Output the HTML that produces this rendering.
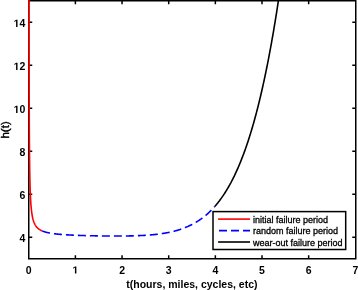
<!DOCTYPE html>
<html><head><meta charset="utf-8"><style>
html,body{margin:0;padding:0;background:#fff;width:358px;height:290px;overflow:hidden}
svg{display:block;will-change:transform}
text{font-family:"Liberation Sans",sans-serif}
</style></head><body>
<svg width="358" height="290" viewBox="0 0 358 290">
<rect x="0" y="0" width="358" height="290" fill="#fff"/>
<defs><clipPath id="c"><rect x="0" y="0" width="358" height="258.75"/></clipPath></defs>
<g fill="none" stroke="#000" stroke-width="1.5">
<rect x="28.75" y="0.75" width="327.0" height="258.0"/>
<line x1="75.40" y1="258.75" x2="75.40" y2="255.25"/><line x1="75.40" y1="0.75" x2="75.40" y2="4.25"/><line x1="122.05" y1="258.75" x2="122.05" y2="255.25"/><line x1="122.05" y1="0.75" x2="122.05" y2="4.25"/><line x1="168.70" y1="258.75" x2="168.70" y2="255.25"/><line x1="168.70" y1="0.75" x2="168.70" y2="4.25"/><line x1="215.35" y1="258.75" x2="215.35" y2="255.25"/><line x1="215.35" y1="0.75" x2="215.35" y2="4.25"/><line x1="262.00" y1="258.75" x2="262.00" y2="255.25"/><line x1="262.00" y1="0.75" x2="262.00" y2="4.25"/><line x1="308.65" y1="258.75" x2="308.65" y2="255.25"/><line x1="308.65" y1="0.75" x2="308.65" y2="4.25"/><line x1="28.75" y1="237.25" x2="32.25" y2="237.25"/><line x1="355.75" y1="237.25" x2="352.25" y2="237.25"/><line x1="28.75" y1="194.25" x2="32.25" y2="194.25"/><line x1="355.75" y1="194.25" x2="352.25" y2="194.25"/><line x1="28.75" y1="151.25" x2="32.25" y2="151.25"/><line x1="355.75" y1="151.25" x2="352.25" y2="151.25"/><line x1="28.75" y1="108.25" x2="32.25" y2="108.25"/><line x1="355.75" y1="108.25" x2="352.25" y2="108.25"/><line x1="28.75" y1="65.25" x2="32.25" y2="65.25"/><line x1="355.75" y1="65.25" x2="352.25" y2="65.25"/><line x1="28.75" y1="22.25" x2="32.25" y2="22.25"/><line x1="355.75" y1="22.25" x2="352.25" y2="22.25"/>
</g>
<g clip-path="url(#c)" fill="none" stroke-width="1.6" stroke-linejoin="round">
<path d="M214.67,206.56 L215.02,206.17 L215.36,205.77 L215.70,205.37 L216.05,204.97 L216.39,204.56 L216.73,204.15 L217.08,203.73 L217.42,203.31 L217.76,202.88 L218.11,202.45 L218.45,202.01 L218.79,201.57 L219.14,201.13 L219.48,200.68 L219.83,200.22 L220.17,199.76 L220.51,199.30 L220.86,198.83 L221.20,198.35 L221.54,197.87 L221.89,197.39 L222.23,196.89 L222.57,196.40 L222.92,195.90 L223.26,195.39 L223.60,194.88 L223.95,194.36 L224.29,193.84 L224.63,193.31 L224.98,192.78 L225.32,192.24 L225.66,191.69 L226.01,191.14 L226.35,190.58 L226.69,190.02 L227.04,189.45 L227.38,188.88 L227.73,188.30 L228.07,187.71 L228.41,187.12 L228.76,186.52 L229.10,185.92 L229.44,185.30 L229.79,184.69 L230.13,184.06 L230.47,183.43 L230.82,182.80 L231.16,182.15 L231.50,181.50 L231.85,180.85 L232.19,180.19 L232.53,179.52 L232.88,178.84 L233.22,178.16 L233.56,177.47 L233.91,176.77 L234.25,176.06 L234.59,175.35 L234.94,174.63 L235.28,173.91 L235.63,173.18 L235.97,172.44 L236.31,171.69 L236.66,170.93 L237.00,170.17 L237.34,169.40 L237.69,168.62 L238.03,167.84 L238.37,167.05 L238.72,166.24 L239.06,165.44 L239.40,164.62 L239.75,163.79 L240.09,162.96 L240.43,162.12 L240.78,161.27 L241.12,160.41 L241.46,159.55 L241.81,158.67 L242.15,157.79 L242.50,156.90 L242.84,156.00 L243.18,155.09 L243.53,154.17 L243.87,153.25 L244.21,152.31 L244.56,151.37 L244.90,150.42 L245.24,149.45 L245.59,148.48 L245.93,147.50 L246.27,146.51 L246.62,145.51 L246.96,144.51 L247.30,143.49 L247.65,142.46 L247.99,141.42 L248.33,140.38 L248.68,139.32 L249.02,138.25 L249.36,137.17 L249.71,136.09 L250.05,134.99 L250.40,133.88 L250.74,132.77 L251.08,131.64 L251.43,130.50 L251.77,129.35 L252.11,128.19 L252.46,127.02 L252.80,125.84 L253.14,124.65 L253.49,123.44 L253.83,122.23 L254.17,121.00 L254.52,119.77 L254.86,118.52 L255.20,117.26 L255.55,115.99 L255.89,114.71 L256.23,113.41 L256.58,112.11 L256.92,110.79 L257.26,109.46 L257.61,108.12 L257.95,106.77 L258.30,105.40 L258.64,104.02 L258.98,102.63 L259.33,101.23 L259.67,99.81 L260.01,98.39 L260.36,96.95 L260.70,95.49 L261.04,94.03 L261.39,92.55 L261.73,91.05 L262.07,89.55 L262.42,88.03 L262.76,86.50 L263.10,84.95 L263.45,83.39 L263.79,81.82 L264.13,80.23 L264.48,78.63 L264.82,77.02 L265.17,75.39 L265.51,73.74 L265.85,72.09 L266.20,70.41 L266.54,68.73 L266.88,67.03 L267.23,65.31 L267.57,63.58 L267.91,61.83 L268.26,60.07 L268.60,58.30 L268.94,56.51 L269.29,54.70 L269.63,52.88 L269.97,51.04 L270.32,49.19 L270.66,47.32 L271.00,45.43 L271.35,43.53 L271.69,41.61 L272.03,39.68 L272.38,37.73 L272.72,35.76 L273.07,33.78 L273.41,31.78 L273.75,29.77 L274.10,27.73 L274.44,25.68 L274.78,23.61 L275.13,21.53 L275.47,19.43 L275.81,17.31 L276.16,15.17 L276.50,13.01 L276.84,10.84 L277.19,8.65 L277.53,6.44 L277.87,4.21 L278.22,1.96 L278.56,-0.30 L278.90,-2.59 L279.25,-4.89 L279.59,-7.21 L279.93,-9.55 L280.28,-11.91 L280.62,-14.29 L280.97,-16.69 L281.31,-19.11 L281.65,-21.55 L282.00,-24.01 L282.34,-26.48 L282.68,-28.98 L283.03,-31.50" stroke="#000"/>
<path d="M42.30,230.95 L42.87,231.18 L43.45,231.40 L44.03,231.61 L44.60,231.79 L45.18,231.97 L45.76,232.13 L46.33,232.29 L46.91,232.43 L47.49,232.57 L48.06,232.70 L48.64,232.82 L49.22,232.94 L49.79,233.05 L50.37,233.15 L50.94,233.25 L51.52,233.34 L52.10,233.43 L52.67,233.52 L53.25,233.60 L53.83,233.68 L54.40,233.75 L54.98,233.82 L55.56,233.89 L56.13,233.96 L56.71,234.02 L57.29,234.08 L57.86,234.14 L58.44,234.20 L59.02,234.25 L59.59,234.31 L60.17,234.36 L60.75,234.41 L61.32,234.45 L61.90,234.50 L62.47,234.54 L63.05,234.59 L63.63,234.63 L64.20,234.67 L64.78,234.71 L65.36,234.75 L65.93,234.78 L66.51,234.82 L67.09,234.85 L67.66,234.89 L68.24,234.92 L68.82,234.95 L69.39,234.98 L69.97,235.01 L70.55,235.04 L71.12,235.07 L71.70,235.10 L72.28,235.13 L72.85,235.15 L73.43,235.18 L74.01,235.20 L74.58,235.23 L75.16,235.25 L75.73,235.28 L76.31,235.30 L76.89,235.32 L77.46,235.34 L78.04,235.36 L78.62,235.39 L79.19,235.41 L79.77,235.43 L80.35,235.45 L80.92,235.46 L81.50,235.48 L82.08,235.50 L82.65,235.52 L83.23,235.54 L83.81,235.55 L84.38,235.57 L84.96,235.59 L85.54,235.60 L86.11,235.62 L86.69,235.63 L87.26,235.65 L87.84,235.66 L88.42,235.68 L88.99,235.69 L89.57,235.71 L90.15,235.72 L90.72,235.73 L91.30,235.74 L91.88,235.76 L92.45,235.77 L93.03,235.78 L93.61,235.79 L94.18,235.80 L94.76,235.82 L95.34,235.83 L95.91,235.84 L96.49,235.85 L97.07,235.86 L97.64,235.87 L98.22,235.88 L98.79,235.89 L99.37,235.89 L99.95,235.90 L100.52,235.91 L101.10,235.92 L101.68,235.93 L102.25,235.93 L102.83,235.94 L103.41,235.95 L103.98,235.96 L104.56,235.96 L105.14,235.97 L105.71,235.97 L106.29,235.98 L106.87,235.99 L107.44,235.99 L108.02,236.00 L108.60,236.00 L109.17,236.00 L109.75,236.01 L110.33,236.01 L110.90,236.02 L111.48,236.02 L112.05,236.02 L112.63,236.02 L113.21,236.03 L113.78,236.03 L114.36,236.03 L114.94,236.03 L115.51,236.03 L116.09,236.03 L116.67,236.03 L117.24,236.03 L117.82,236.03 L118.40,236.03 L118.97,236.03 L119.55,236.02 L120.13,236.02 L120.70,236.02 L121.28,236.02 L121.86,236.01 L122.43,236.01 L123.01,236.00 L123.58,236.00 L124.16,235.99 L124.74,235.98 L125.31,235.98 L125.89,235.97 L126.47,235.96 L127.04,235.95 L127.62,235.95 L128.20,235.94 L128.77,235.93 L129.35,235.91 L129.93,235.90 L130.50,235.89 L131.08,235.88 L131.66,235.87 L132.23,235.85 L132.81,235.84 L133.39,235.82 L133.96,235.80 L134.54,235.79 L135.11,235.77 L135.69,235.75 L136.27,235.73 L136.84,235.71 L137.42,235.69 L138.00,235.67 L138.57,235.64 L139.15,235.62 L139.73,235.60 L140.30,235.57 L140.88,235.54 L141.46,235.52 L142.03,235.49 L142.61,235.46 L143.19,235.43 L143.76,235.39 L144.34,235.36 L144.92,235.33 L145.49,235.29 L146.07,235.25 L146.64,235.21 L147.22,235.17 L147.80,235.13 L148.37,235.09 L148.95,235.05 L149.53,235.00 L150.10,234.96 L150.68,234.91 L151.26,234.86 L151.83,234.81 L152.41,234.76 L152.99,234.70 L153.56,234.65 L154.14,234.59 L154.72,234.53 L155.29,234.47 L155.87,234.40 L156.45,234.34 L157.02,234.27 L157.60,234.20 L158.18,234.13 L158.75,234.06 L159.33,233.99 L159.90,233.91 L160.48,233.83 L161.06,233.75 L161.63,233.67 L162.21,233.58 L162.79,233.49 L163.36,233.40 L163.94,233.31 L164.52,233.21 L165.09,233.11 L165.67,233.01 L166.25,232.91 L166.82,232.80 L167.40,232.70 L167.98,232.58 L168.55,232.47 L169.13,232.35 L169.71,232.23 L170.28,232.11 L170.86,231.98 L171.43,231.85 L172.01,231.72 L172.59,231.58 L173.16,231.44 L173.74,231.30 L174.32,231.15 L174.89,231.00 L175.47,230.85 L176.05,230.69 L176.62,230.53 L177.20,230.36 L177.78,230.19 L178.35,230.02 L178.93,229.84 L179.51,229.66 L180.08,229.47 L180.66,229.28 L181.24,229.08 L181.81,228.88 L182.39,228.68 L182.96,228.47 L183.54,228.26 L184.12,228.04 L184.69,227.81 L185.27,227.59 L185.85,227.35 L186.42,227.11 L187.00,226.87 L187.58,226.62 L188.15,226.36 L188.73,226.10 L189.31,225.83 L189.88,225.56 L190.46,225.28 L191.04,225.00 L191.61,224.71 L192.19,224.41 L192.77,224.11 L193.34,223.80 L193.92,223.48 L194.50,223.15 L195.07,222.82 L195.65,222.49 L196.22,222.14 L196.80,221.79 L197.38,221.43 L197.95,221.07 L198.53,220.69 L199.11,220.31 L199.68,219.92 L200.26,219.52 L200.84,219.12 L201.41,218.70 L201.99,218.28 L202.57,217.85 L203.14,217.41 L203.72,216.96 L204.30,216.50 L204.87,216.04 L205.45,215.56 L206.03,215.08 L206.60,214.58 L207.18,214.08 L207.75,213.56 L208.33,213.04 L208.91,212.50 L209.48,211.96 L210.06,211.40 L210.64,210.84 L211.21,210.26 L211.79,209.67 L212.37,209.07 L212.94,208.46 L213.52,207.84 L214.10,207.20 L214.67,206.56" stroke="#0000ff" stroke-dasharray="8 4"/>
<path d="M28.95,-31.50 L28.96,-21.81 L28.97,-12.47 L28.98,-3.47 L28.99,5.21 L29.00,13.57 L29.01,21.63 L29.02,29.41 L29.03,36.90 L29.05,44.12 L29.06,51.09 L29.07,57.80 L29.09,64.27 L29.10,70.51 L29.11,76.52 L29.13,82.32 L29.15,87.90 L29.16,93.29 L29.18,98.48 L29.20,103.49 L29.22,108.31 L29.24,112.96 L29.26,117.45 L29.28,121.77 L29.30,125.93 L29.32,129.95 L29.35,133.82 L29.37,137.55 L29.40,141.15 L29.43,144.62 L29.46,147.96 L29.49,151.19 L29.52,154.29 L29.55,157.29 L29.58,160.17 L29.62,162.96 L29.65,165.64 L29.69,168.22 L29.73,170.72 L29.77,173.12 L29.82,175.44 L29.86,177.67 L29.91,179.82 L29.96,181.90 L30.01,183.90 L30.06,185.82 L30.12,187.68 L30.17,189.47 L30.23,191.20 L30.30,192.87 L30.36,194.47 L30.43,196.02 L30.50,197.51 L30.57,198.95 L30.65,200.33 L30.73,201.67 L30.81,202.96 L30.90,204.20 L30.99,205.40 L31.09,206.55 L31.28,208.62 L31.47,210.42 L31.66,212.00 L31.85,213.39 L32.04,214.63 L32.23,215.74 L32.42,216.74 L32.61,217.65 L32.80,218.48 L32.99,219.23 L33.18,219.93 L33.37,220.57 L33.56,221.16 L33.75,221.72 L33.94,222.23 L34.13,222.71 L34.32,223.15 L34.51,223.57 L34.70,223.97 L34.89,224.34 L35.08,224.69 L35.27,225.02 L35.46,225.33 L35.65,225.63 L35.84,225.91 L36.03,226.18 L36.22,226.43 L36.41,226.67 L36.60,226.91 L36.79,227.13 L36.98,227.34 L37.17,227.54 L37.36,227.74 L37.55,227.92 L37.74,228.10 L37.93,228.27 L38.12,228.44 L38.31,228.60 L38.50,228.75 L38.69,228.90 L38.88,229.04 L39.07,229.18 L39.26,229.31 L39.45,229.44 L39.64,229.56 L39.83,229.68 L40.02,229.80 L40.21,229.91 L40.40,230.02 L40.59,230.12 L40.78,230.23 L40.97,230.33 L41.16,230.42 L41.35,230.52 L41.54,230.61 L41.73,230.70 L41.92,230.78 L42.11,230.87 L42.30,230.95" stroke="#ff0000"/>
</g>
<g font-size="10.5" font-weight="bold" fill="#000">
<text x="28.75" y="273.6" text-anchor="middle">0</text><path transform="translate(72.480,273.600) scale(0.005127,-0.005127)" d="M478 0V1170L140 959V1180L493 1409H759V0Z"/><text x="122.05" y="273.6" text-anchor="middle">2</text><text x="168.70" y="273.6" text-anchor="middle">3</text><text x="215.35" y="273.6" text-anchor="middle">4</text><text x="262.00" y="273.6" text-anchor="middle">5</text><text x="308.65" y="273.6" text-anchor="middle">6</text><text x="355.30" y="273.6" text-anchor="middle">7</text><text x="25.3" y="242.00" text-anchor="end">4</text><text x="25.3" y="199.00" text-anchor="end">6</text><text x="25.3" y="156.00" text-anchor="end">8</text><path transform="translate(13.621,113.000) scale(0.005127,-0.005127)" d="M478 0V1170L140 959V1180L493 1409H759V0Z"/><text x="25.3" y="113.00" text-anchor="end">0</text><path transform="translate(13.621,70.000) scale(0.005127,-0.005127)" d="M478 0V1170L140 959V1180L493 1409H759V0Z"/><text x="25.3" y="70.00" text-anchor="end">2</text><path transform="translate(13.621,27.000) scale(0.005127,-0.005127)" d="M478 0V1170L140 959V1180L493 1409H759V0Z"/><text x="25.3" y="27.00" text-anchor="end">4</text>
</g>
<text x="191.9" y="287.6" text-anchor="middle" font-size="10.5" font-weight="bold">t(hours, miles, cycles, etc)</text>
<text transform="translate(8.6,129.9) rotate(-90)" text-anchor="middle" font-size="11.5" stroke="#000" stroke-width="0.4">h(t)</text>
<rect x="213" y="211.6" width="132.7" height="37.9" fill="#fff" stroke="#000" stroke-width="1.5"/>
<g stroke-width="1.6">
<line x1="218.1" y1="219.1" x2="250" y2="219.1" stroke="#ff0000"/>
<line x1="219" y1="230.6" x2="250" y2="230.6" stroke="#0000ff" stroke-dasharray="8 4"/>
<line x1="218.1" y1="242" x2="250" y2="242" stroke="#000"/>
</g>
<g font-size="9" fill="#000" stroke="#000" stroke-width="0.3">
<text x="252.9" y="222.8">initial failure period</text>
<text x="252.9" y="234.2">random failure period</text>
<text x="252.9" y="245.6">wear-out failure period</text>
</g>
</svg>
</body></html>
